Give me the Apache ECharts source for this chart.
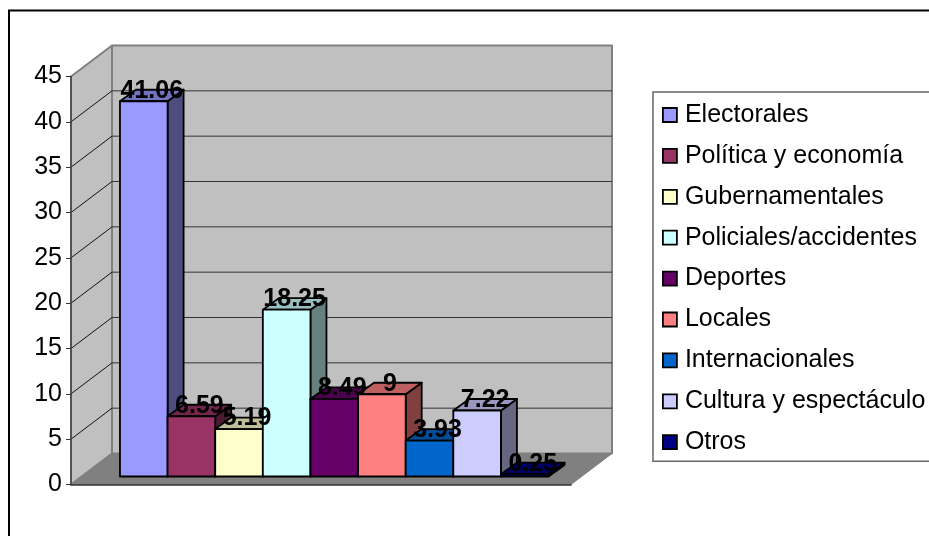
<!DOCTYPE html>
<html><head><meta charset="utf-8">
<style>html,body{margin:0;padding:0;background:#fff;overflow:hidden}#c{width:929px;height:536px}</style>
<script src="https://cdn.jsdelivr.net/npm/echarts@6/dist/echarts.min.js"></script>
</head><body><div id="c"></div>
<script>
const categories = ["Electorales","Política y economía","Gubernamentales","Policiales/accidentes","Deportes","Locales","Internacionales","Cultura y espectáculo","Otros"];
const values = [41.06,6.59,5.19,18.25,8.49,9,3.93,7.22,0.25];
const colors = ["#9999FF","#993366","#FFFFCC","#CCFFFF","#660066","#FF8080","#0066CC","#CCCCFF","#000080"];
const yTicks = [0,5,10,15,20,25,30,35,40,45];
const FONT = '"Liberation Sans", Arial, sans-serif';
const X_MIN = -0.85, X_MAX = 9.65, Y_MAX = 45;
const WALL = {dx:41, dy:-31};
const FRONT = {dx:8.5, dy:-8};
const BAR = {dx:16, dy:-11.5, scale:1.008};

function shade(hex,f){
  const n=parseInt(hex.slice(1),16);
  const c=[n>>16,(n>>8)&255,n&255].map(v=>Math.round(v*f));
  return `rgb(${c[0]},${c[1]},${c[2]})`;
}
function poly(points,fill,stroke,lw){
  return {type:'polygon',shape:{points},style:{fill,stroke,lineWidth:lw,lineJoin:'round'},silent:true};
}
function line(a,b,stroke,lw){
  return {type:'line',shape:{x1:a[0],y1:a[1],x2:b[0],y2:b[1]},style:{stroke,lineWidth:lw},silent:true};
}
const shift=(p,d)=>[p[0]+d.dx,p[1]+d.dy];

function renderWalls(params,api){
  const a=api.coord([X_MIN,0]), b=api.coord([X_MAX,0]), t=api.coord([X_MIN,Y_MAX]);
  const ab=shift(a,WALL), bb=shift(b,WALL), tb=shift(t,WALL), rb=[bb[0],tb[1]];
  return {type:'group',children:[
    poly([tb,rb,bb,ab],'#C0C0C0','#808080',2),
    poly([t,tb,ab,a],'#C0C0C0','#808080',2),
    poly([a,ab,bb,b],'#808080','#808080',1)
  ]};
}
function renderGrid(params,api){
  const v=api.value(0);
  const l=api.coord([X_MIN,v]), r=api.coord([X_MAX,v]);
  const lb=shift(l,WALL), rb=shift(r,WALL);
  return {type:'group',children:[line(l,lb,'#111',1),line(lb,rb,'#333',1)]};
}
function renderBar(params,api){
  const i=api.value(0), v=api.value(1);
  const z=api.coord([i,0]), e=api.coord([i+1,0]), h=api.coord([i,v]);
  const x0=z[0]+FRONT.dx, x1=e[0]+FRONT.dx, yb=z[1]+FRONT.dy;
  const yt=yb-(z[1]-h[1])*BAR.scale;
  const col=colors[i];
  const fbl=[x0,yb],fbr=[x1,yb],ftl=[x0,yt],ftr=[x1,yt];
  return {type:'group',children:[
    poly([ftr,shift(ftr,BAR),shift(fbr,BAR),fbr],shade(col,0.5),'#000',1.8),
    poly([ftl,shift(ftl,BAR),shift(ftr,BAR),ftr],shade(col,0.75),'#000',1.8),
    poly([ftl,ftr,fbr,fbl],col,'#000',1.8),
    {type:'text',z2:100,silent:true,x:(x0+x1)/2+BAR.dx/2,y:yt-10.5,
      style:{text:String(v),font:`bold 25px ${FONT}`,fill:'#000',align:'center',verticalAlign:'middle'}}
  ]};
}
const series=[
  {type:'custom',name:'walls',silent:true,clip:false,data:[[Y_MAX]],encode:{y:0},renderItem:renderWalls},
  {type:'custom',name:'grid',silent:true,clip:false,data:yTicks.filter(t=>t>0&&t<Y_MAX).map(t=>[t]),encode:{y:0},renderItem:renderGrid}
];
categories.forEach((name,i)=>series.push({
  type:'custom',name,silent:true,clip:false,
  itemStyle:{color:colors[i]},
  data:[[i,values[i]]],encode:{x:0,y:1},renderItem:renderBar
}));
const chart=echarts.init(document.getElementById('c'),null,{renderer:'canvas'});
chart.setOption({
  animation:false,
  backgroundColor:'#fff',
  graphic:[{type:'rect',shape:{x:9,y:10.5,width:1000,height:1000},style:{fill:'none',stroke:'#000',lineWidth:2},silent:true,z:-1}],
  grid:{left:71,top:76.5,width:500,height:408},
  xAxis:{type:'value',min:X_MIN,max:X_MAX,z:3,axisLine:{show:true,onZero:false,lineStyle:{color:'#333',width:1.5}},axisTick:{show:false},axisLabel:{show:false},splitLine:{show:false}},
  yAxis:{type:'value',min:0,max:Y_MAX,interval:5,z:3,
    axisLine:{show:true,onZero:false,lineStyle:{color:'#444',width:1.5}},
    axisTick:{show:true,length:5,lineStyle:{color:'#333',width:1}},
    axisLabel:{fontFamily:FONT,fontSize:25,color:'#000',margin:9,padding:[3,0,0,0]},
    splitLine:{show:false}},
  legend:{show:true,orient:'vertical',left:653,top:92,data:categories,selectedMode:false,
    icon:'rect',itemWidth:14,itemHeight:14,itemGap:12.9,padding:[9,12,5,9],
    borderColor:'#666',borderWidth:1.5,
    itemStyle:{borderColor:'#000',borderWidth:1.8},
    textStyle:{fontFamily:FONT,fontSize:25,color:'#000',padding:[0,0,0,3],lineHeight:28}},
  series
});
</script></body></html>
